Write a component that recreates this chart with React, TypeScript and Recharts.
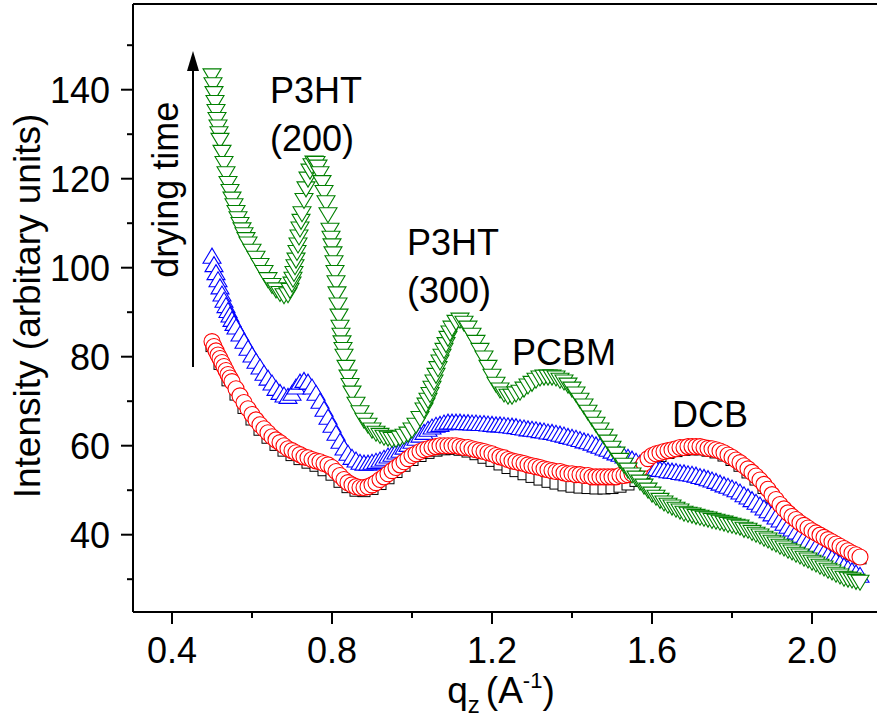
import React from "react";
import {
  ScatterChart,
  Scatter,
  XAxis,
  YAxis,
  ReferenceLine,
  ReferenceDot,
} from "recharts";

// q_z (1/A) vs intensity
const blackSquares: [number, number][] = [
  [0.5, 82.5], [0.52, 78.5], [0.54, 74.8], [0.56, 71.6], [0.58, 68.6], [0.6, 66],
  [0.62, 63.7], [0.64, 61.9], [0.66, 60.3], [0.68, 59], [0.7, 58], [0.72, 57.1],
  [0.74, 56.3], [0.76, 55.6], [0.78, 54.6], [0.8, 53.6], [0.82, 52], [0.84, 50.8],
  [0.86, 50], [0.88, 49.9], [0.9, 50.4], [0.92, 51.5], [0.94, 52.8], [0.96, 54.2],
  [0.98, 55.6], [1.0, 56.9], [1.02, 57.8], [1.04, 58.5], [1.06, 59], [1.08, 59.3],
  [1.1, 59.4], [1.12, 59.2], [1.14, 58.8], [1.16, 58.2], [1.18, 57.4], [1.2, 56.7],
  [1.22, 55.9], [1.24, 55.1], [1.26, 54.4], [1.28, 53.7], [1.3, 53.1], [1.32, 52.5],
  [1.34, 52], [1.36, 51.6], [1.38, 51.2], [1.4, 50.9], [1.42, 50.7], [1.44, 50.6],
  [1.46, 50.5], [1.48, 50.5], [1.5, 50.6], [1.52, 50.9], [1.54, 51.4], [1.56, 52.2],
  [1.58, 54], [1.6, 56.5], [1.62, 57.8], [1.64, 58.5], [1.66, 58.9], [1.68, 59.2],
  [1.7, 59.3], [1.72, 59.3], [1.74, 59], [1.76, 58.6], [1.78, 57.9], [1.8, 56.9],
  [1.82, 55.6], [1.84, 54.1], [1.86, 52.5], [1.88, 50.6], [1.9, 48.5], [1.92, 46.5],
  [1.94, 44.7], [1.96, 43.2], [1.98, 41.9], [2.0, 40.7], [2.02, 39.7], [2.04, 38.7],
  [2.06, 37.7], [2.08, 36.7], [2.1, 35.7], [2.12, 34.8],
];

const redCircles: [number, number][] = [
  [0.5, 83.4], [0.505, 82.3], [0.51, 81.3], [0.515, 80.4], [0.52, 79.6], [0.525, 78.7],
  [0.53, 77.8], [0.535, 76.9], [0.54, 76], [0.545, 75.2], [0.55, 74.4], [0.56, 72.8],
  [0.57, 71.2], [0.58, 69.7], [0.59, 68.3], [0.6, 67], [0.61, 65.8], [0.62, 64.7],
  [0.63, 63.8], [0.64, 62.9], [0.65, 62], [0.66, 61.3], [0.67, 60.7], [0.68, 60],
  [0.69, 59.3], [0.7, 58.9], [0.71, 58.4], [0.72, 58], [0.73, 57.5], [0.74, 57.3],
  [0.75, 56.9], [0.76, 56.6], [0.77, 56.4], [0.78, 56], [0.79, 55.7], [0.8, 55.1],
  [0.81, 54.2], [0.82, 53.3], [0.83, 52.4], [0.84, 51.7], [0.85, 51.2], [0.86, 50.8],
  [0.87, 50.6], [0.88, 50.6], [0.89, 50.8], [0.9, 51.2], [0.91, 51.7], [0.92, 52.4],
  [0.93, 53], [0.94, 53.7], [0.95, 54.4], [0.96, 55.1], [0.97, 55.7], [0.98, 56.4],
  [0.99, 57.1], [1.0, 57.8], [1.01, 58.2], [1.02, 58.7], [1.03, 59.1], [1.04, 59.3],
  [1.05, 59.6], [1.06, 59.8], [1.07, 60], [1.08, 60], [1.09, 60], [1.1, 60],
  [1.11, 60], [1.12, 59.8], [1.13, 59.6], [1.14, 59.6], [1.15, 59.3], [1.16, 59.1],
  [1.17, 58.9], [1.18, 58.7], [1.19, 58.4], [1.2, 58.2], [1.21, 57.8], [1.22, 57.5],
  [1.23, 57.3], [1.24, 56.9], [1.25, 56.6], [1.26, 56.4], [1.27, 56.2], [1.28, 56],
  [1.29, 55.7], [1.3, 55.5], [1.31, 55.3], [1.32, 55.1], [1.33, 54.8], [1.34, 54.6],
  [1.35, 54.4], [1.36, 54.2], [1.37, 54.2], [1.38, 53.9], [1.39, 53.7], [1.4, 53.7],
  [1.41, 53.5], [1.42, 53.5], [1.43, 53.3], [1.44, 53.3], [1.45, 53], [1.46, 53],
  [1.47, 53], [1.48, 53], [1.49, 53], [1.5, 53], [1.51, 53], [1.52, 53.3],
  [1.53, 53.3], [1.54, 53.5], [1.55, 53.7], [1.56, 54.2], [1.57, 54.8], [1.58, 56],
  [1.59, 57.1], [1.6, 57.8], [1.61, 58.2], [1.62, 58.4], [1.63, 58.7], [1.64, 58.9],
  [1.65, 59.1], [1.66, 59.3], [1.67, 59.6], [1.68, 59.6], [1.69, 59.8], [1.7, 59.8],
  [1.71, 59.8], [1.72, 59.8], [1.73, 59.6], [1.74, 59.4], [1.75, 59.3], [1.76, 59.1],
  [1.77, 58.8], [1.78, 58.4], [1.79, 57.9], [1.8, 57.4], [1.81, 56.8], [1.82, 56.2],
  [1.83, 55.5], [1.84, 54.8], [1.85, 54], [1.86, 53.2], [1.87, 52.3], [1.88, 51.3],
  [1.89, 50.2], [1.9, 49], [1.91, 47.9], [1.92, 46.8], [1.93, 45.8], [1.94, 44.9],
  [1.95, 44.1], [1.96, 43.4], [1.97, 42.7], [1.98, 42.1], [1.99, 41.5], [2.0, 40.9],
  [2.01, 40.4], [2.02, 39.9], [2.03, 39.4], [2.04, 38.9], [2.05, 38.4], [2.06, 37.9],
  [2.07, 37.4], [2.08, 36.9], [2.09, 36.4], [2.1, 35.9], [2.11, 35.5], [2.12, 35],
];

const blueTriangles: [number, number][] = [
  [0.5, 102.7], [0.505, 100.8], [0.51, 99], [0.515, 97.4], [0.52, 95.8], [0.525, 94.2],
  [0.53, 92.8], [0.535, 91.6], [0.54, 90.5], [0.545, 89.5], [0.55, 88.5], [0.555, 87.6],
  [0.56, 86.8], [0.57, 85.2], [0.58, 83.6], [0.59, 82], [0.6, 80.5], [0.61, 79.1],
  [0.62, 77.8], [0.63, 76.4], [0.64, 75.3], [0.65, 74.2], [0.66, 73], [0.67, 72.1],
  [0.68, 71.5], [0.69, 71.2], [0.7, 71.9], [0.71, 73.3], [0.72, 74.4], [0.73, 74.8],
  [0.74, 74.4], [0.75, 73.3], [0.76, 71.9], [0.77, 70.1], [0.78, 68.3], [0.79, 66.5],
  [0.8, 64.7], [0.81, 62.9], [0.82, 61.1], [0.83, 59.6], [0.84, 58.4], [0.85, 57.5],
  [0.86, 56.9], [0.87, 56.4], [0.88, 56.2], [0.89, 56.2], [0.9, 56.4], [0.91, 56.6],
  [0.92, 56.9], [0.93, 57.3], [0.94, 57.8], [0.95, 58.2], [0.96, 58.7], [0.97, 59.1],
  [0.98, 59.8], [0.99, 60.4], [1.0, 61.1], [1.01, 61.8], [1.02, 62.5], [1.03, 63.1],
  [1.04, 63.8], [1.05, 64.3], [1.06, 64.7], [1.07, 64.9], [1.08, 65.2], [1.09, 65.4],
  [1.1, 65.4], [1.11, 65.4], [1.12, 65.4], [1.13, 65.3], [1.14, 65.3], [1.15, 65.2],
  [1.16, 65.2], [1.17, 65.1], [1.18, 65.1], [1.19, 65], [1.2, 64.9], [1.21, 64.8],
  [1.22, 64.8], [1.23, 64.7], [1.24, 64.6], [1.25, 64.5], [1.26, 64.4], [1.27, 64.2],
  [1.28, 64.1], [1.29, 63.9], [1.3, 63.8], [1.31, 63.7], [1.32, 63.5], [1.33, 63.4],
  [1.34, 63.2], [1.35, 63.1], [1.36, 62.9], [1.37, 62.7], [1.38, 62.5], [1.39, 62.2],
  [1.4, 62], [1.41, 61.8], [1.42, 61.5], [1.43, 61.2], [1.44, 61], [1.45, 60.7],
  [1.46, 60.3], [1.47, 60], [1.48, 59.6], [1.49, 59.3], [1.5, 58.9], [1.51, 58.5],
  [1.52, 58.2], [1.53, 57.8], [1.54, 57.5], [1.55, 57.1], [1.56, 56.6], [1.57, 56.2],
  [1.58, 55.7], [1.59, 55.4], [1.6, 55.1], [1.61, 55], [1.62, 54.8], [1.63, 54.7],
  [1.64, 54.5], [1.65, 54.4], [1.66, 54.3], [1.67, 54.1], [1.68, 54], [1.69, 53.8],
  [1.7, 53.7], [1.71, 53.5], [1.72, 53.2], [1.73, 53], [1.74, 52.7], [1.75, 52.4],
  [1.76, 52.1], [1.77, 51.7], [1.78, 51.3], [1.79, 51], [1.8, 50.6], [1.81, 50.2],
  [1.82, 49.7], [1.83, 49.1], [1.84, 48.6], [1.85, 48], [1.86, 47.4], [1.87, 46.8],
  [1.88, 46.1], [1.89, 45.5], [1.9, 44.8], [1.91, 44.1], [1.92, 43.4], [1.93, 42.7],
  [1.94, 42], [1.95, 41.4], [1.96, 40.7], [1.97, 40], [1.98, 39.3], [1.99, 38.7],
  [2.0, 38.1], [2.01, 37.4], [2.02, 36.8], [2.03, 36.1], [2.04, 35.5], [2.05, 34.9],
  [2.06, 34.3], [2.07, 33.7], [2.08, 33.1], [2.09, 32.5], [2.1, 32], [2.11, 31.5],
  [2.12, 31],
];

const greenTriangles: [number, number][] = [
  [0.5, 143], [0.5025, 141], [0.505, 139], [0.5075, 137], [0.51, 135], [0.5125, 133.2],
  [0.515, 131.5], [0.5175, 130], [0.52, 128.5], [0.525, 125.8],
  [0.53, 123.3], [0.535, 121], [0.54, 118.8], [0.545, 117], [0.55, 115.3], [0.555, 113.8],
  [0.56, 112.3], [0.565, 110.9], [0.57, 109.6], [0.575, 108.4], [0.58, 107.3], [0.585, 106.2],
  [0.59, 105.2], [0.6, 103.6], [0.61, 102], [0.62, 100.4], [0.63, 98.8], [0.64, 97.2],
  [0.65, 95.9], [0.66, 94.9], [0.67, 94.1], [0.68, 93.6], [0.69, 93.8], [0.695, 94.8],
  [0.7, 96.2], [0.7025, 97.3], [0.705, 98.6], [0.7075, 100.1], [0.71, 101.6], [0.7125, 103.3],
  [0.715, 105], [0.7175, 106.8], [0.72, 108.6], [0.7225, 110.3], [0.725, 112],
  [0.73, 115], [0.735, 117.6], [0.74, 119.8], [0.745, 121.6], [0.75, 122.8], [0.755, 123.4],
  [0.76, 123.3], [0.765, 122.5], [0.77, 121], [0.775, 119], [0.78, 116.8], [0.785, 114.5],
  [0.79, 111.8], [0.795, 108.3], [0.7975, 106.5], [0.8, 104.8], [0.8025, 103], [0.805, 101],
  [0.8075, 98.8], [0.81, 96.5], [0.8125, 94], [0.815, 91.5], [0.8175, 89], [0.82, 86.5],
  [0.8225, 84.7], [0.825, 83], [0.8275, 81.5], [0.83, 80], [0.835, 77.5], [0.84, 75.3],
  [0.845, 73.4], [0.85, 71.7], [0.86, 69.2], [0.87, 67.3], [0.88, 65.6], [0.89, 64.5],
  [0.9, 63.4], [0.91, 62.7], [0.92, 62.2], [0.93, 61.8], [0.94, 61.6], [0.95, 61.3],
  [0.96, 61.3], [0.97, 61.6], [0.98, 62], [0.99, 62.5], [1.0, 63.4], [1.01, 64.5],
  [1.02, 66], [1.03, 67.9], [1.035, 69], [1.04, 70.1], [1.045, 71.4], [1.05, 72.8],
  [1.055, 74.2], [1.06, 75.7], [1.065, 77.2], [1.07, 78.7], [1.075, 80], [1.08, 81.3],
  [1.085, 82.6], [1.09, 84], [1.095, 85.2], [1.1, 86.3], [1.11, 87.6], [1.12, 88.1],
  [1.13, 87.4], [1.14, 86.3], [1.15, 84.7], [1.16, 83.1], [1.17, 81.3], [1.18, 79.6],
  [1.19, 77.5], [1.2, 75.5], [1.21, 73.7], [1.22, 72.4], [1.23, 71.5], [1.24, 71],
  [1.25, 71], [1.26, 71.5], [1.27, 71.9], [1.28, 72.6], [1.29, 73.3], [1.3, 73.9],
  [1.31, 74.6], [1.32, 75.1], [1.33, 75.3], [1.34, 75.3], [1.35, 75.3], [1.36, 75.1],
  [1.37, 74.6], [1.38, 74.2], [1.39, 73.5], [1.4, 72.6], [1.41, 71.5], [1.42, 70.1],
  [1.43, 68.8], [1.44, 67.4], [1.45, 66.1], [1.46, 64.7], [1.47, 63.4], [1.48, 62],
  [1.49, 60.7], [1.5, 59.3], [1.51, 58], [1.52, 56.6], [1.53, 55.5], [1.54, 54.4],
  [1.55, 53.3], [1.56, 52.6], [1.57, 51.7], [1.58, 50.8], [1.59, 49.9], [1.6, 49],
  [1.61, 48.3], [1.62, 47.6], [1.63, 47], [1.64, 46.5], [1.65, 46.1], [1.66, 45.6],
  [1.67, 45.2], [1.68, 44.7], [1.69, 44.5], [1.7, 44.3], [1.71, 44], [1.72, 43.8],
  [1.73, 43.6], [1.74, 43.4], [1.75, 43.1], [1.76, 42.9], [1.77, 42.7], [1.78, 42.5],
  [1.79, 42.2], [1.8, 42], [1.81, 41.8], [1.82, 41.6], [1.83, 41.1], [1.84, 40.9],
  [1.85, 40.4], [1.86, 40], [1.87, 39.6], [1.88, 39.1], [1.89, 38.7], [1.9, 38.2],
  [1.91, 37.8], [1.92, 37.3], [1.93, 36.9], [1.94, 36.4], [1.95, 36], [1.96, 35.5],
  [1.97, 35.1], [1.98, 34.6], [1.99, 34.2], [2.0, 33.7], [2.01, 33.3], [2.02, 32.8],
  [2.03, 32.4], [2.04, 31.9], [2.05, 31.5], [2.06, 31], [2.07, 30.6], [2.08, 30.1],
  [2.09, 29.9], [2.1, 29.7], [2.11, 29.4], [2.12, 29.2],
];

const xMajorTicks = [0.4, 0.8, 1.2, 1.6, 2.0];
const xMinorTicks = [0.6, 1.0, 1.4, 1.8];
const yMajorTicks = [40, 60, 80, 100, 120, 140];
const yMinorTicks = [30, 50, 70, 90, 110, 130, 150];

const X_DOMAIN: [number, number] = [0.3025, 2.1625];
const Y_DOMAIN: [number, number] = [22.63, 159.26];

const FONT = "'Liberation Sans', Arial, sans-serif";
const GREEN = "#008000";

const toPoints = (rows: [number, number][]) => rows.map(([q, I]) => ({ q, I }));

const isIn = (list: number[], v: number) => list.some((m) => Math.abs(m - v) < 1e-6);

function XTick(props: any) {
  const { x, y, payload } = props;
  const major = isIn(xMajorTicks, payload.value);
  const len = major ? 12 : 6;
  return (
    <g>
      <line x1={x} x2={x} y1={y} y2={y + len} stroke="#000" strokeWidth={2} />
      {major && (
        <text x={x} y={y + 51} textAnchor="middle" fontSize={36} fontFamily={FONT} fill="#000">
          {payload.value.toFixed(1)}
        </text>
      )}
    </g>
  );
}

function YTick(props: any) {
  const { x, y, payload } = props;
  const major = isIn(yMajorTicks, payload.value);
  const len = major ? 12 : 6;
  return (
    <g>
      <line x1={x - len} x2={x} y1={y} y2={y} stroke="#000" strokeWidth={2} />
      {major && (
        <text x={x - 23} y={y} dy="0.36em" textAnchor="end" fontSize={36} fontFamily={FONT} fill="#000">
          {payload.value}
        </text>
      )}
    </g>
  );
}

const square = (color: string) => (p: any) => (
  <rect x={p.cx - 6} y={p.cy - 6} width={12} height={12} fill="#fff" stroke={color} strokeWidth={1} />
);

const circle = (color: string) => (p: any) => (
  <circle cx={p.cx} cy={p.cy} r={8} fill="#fff" stroke={color} strokeWidth={1.1} />
);

const triangle = (color: string, down: boolean) => (p: any) => {
  const w = 18;
  const h = 15;
  const { cx, cy } = p;
  const pts = down
    ? `${cx - w / 2},${cy - h / 2} ${cx + w / 2},${cy - h / 2} ${cx},${cy + h / 2}`
    : `${cx - w / 2},${cy + h / 2} ${cx + w / 2},${cy + h / 2} ${cx},${cy - h / 2}`;
  return <polygon points={pts} fill="#fff" stroke={color} strokeWidth={1.1} />;
};

const annotation = (lines: string[]) => (p: any) => (
  <text x={p.cx} y={p.cy} fontSize={36} fontFamily={FONT} fill="#000">
    {lines.map((l, i) => (
      <tspan key={i} x={p.cx} dy={i === 0 ? 0 : 48}>
        {l}
      </tspan>
    ))}
  </text>
);

const rotatedNote = (p: any) => (
  <text
    x={p.cx}
    y={p.cy}
    transform={`rotate(-90 ${p.cx} ${p.cy})`}
    textAnchor="middle"
    fontSize={36}
    fontFamily={FONT}
    fill="#000"
  >
    drying time
  </text>
);

const arrow = (p: any) => {
  const { x1, y1, x2, y2 } = p;
  return (
    <g>
      <line x1={x1} y1={y1} x2={x2} y2={y2 + 14} stroke="#000" strokeWidth={2} />
      <polygon points={`${x2 - 6},${y2 + 20} ${x2 + 6},${y2 + 20} ${x2},${y2}`} fill="#000" />
    </g>
  );
};

const yTitle = () => (
  <text
    x={40}
    y={306}
    transform="rotate(-90 40 306)"
    textAnchor="middle"
    fontSize={37}
    fontFamily={FONT}
    fill="#000"
  >
    Intensity (arbitary units)
  </text>
);

const xTitle = (props: any) => {
  const vb = props.viewBox || { x: 133, y: 612, width: 744 };
  const cx = vb.x + vb.width / 2;
  return (
    <text x={cx - 4} y={vb.y + 91} textAnchor="middle" fontSize={37} fontFamily={FONT} fill="#000">
      q<tspan fontSize={24} dy={10}>z</tspan>
      <tspan dx={6} dy={-10}>(A</tspan>
      <tspan fontSize={22} dy={-15}>-1</tspan>
      <tspan dy={15}>)</tspan>
    </text>
  );
};

export default function App() {
  return (
    <div style={{ position: "absolute", left: 0, top: 0, background: "#fff" }}>
      <ScatterChart width={877} height={725} margin={{ top: 4, right: 0, bottom: 0, left: 0 }}>
        <XAxis
          type="number"
          dataKey="q"
          domain={X_DOMAIN}
          allowDataOverflow
          ticks={[...xMajorTicks, ...xMinorTicks].sort((a, b) => a - b)}
          interval={0}
          tickSize={0}
          tickMargin={0}
          tickLine={false}
          tick={XTick}
          axisLine={{ stroke: "#000", strokeWidth: 2 }}
          height={113}
          label={xTitle}
        />
        <YAxis
          type="number"
          dataKey="I"
          domain={Y_DOMAIN}
          allowDataOverflow
          ticks={[...yMajorTicks, ...yMinorTicks].sort((a, b) => a - b)}
          interval={0}
          tickSize={0}
          tickMargin={0}
          tickLine={false}
          tick={YTick}
          axisLine={{ stroke: "#000", strokeWidth: 2 }}
          width={133}
          label={yTitle}
        />
        <ReferenceLine y={Y_DOMAIN[1]} stroke="#000" strokeWidth={2} />
        <Scatter data={toPoints(blackSquares)} shape={square("#000")} isAnimationActive={false} />
        <Scatter data={toPoints(blueTriangles)} shape={triangle("#0000ff", false)} isAnimationActive={false} />
        <Scatter data={toPoints(redCircles)} shape={circle("#ff0000")} isAnimationActive={false} />
        <Scatter data={toPoints(greenTriangles)} shape={triangle(GREEN, true)} isAnimationActive={false} />
        <ReferenceLine
          segment={[
            { x: 0.4525, y: 77.7 },
            { x: 0.4525, y: 148.7 },
          ]}
          shape={arrow}
          ifOverflow="visible"
        />
        <ReferenceDot x={0.415} y={117.5} r={0} shape={rotatedNote} ifOverflow="visible" />
        <ReferenceDot x={0.645} y={137} r={0} shape={annotation(["P3HT", "(200)"])} ifOverflow="visible" />
        <ReferenceDot x={0.9875} y={102.85} r={0} shape={annotation(["P3HT", "(300)"])} ifOverflow="visible" />
        <ReferenceDot x={1.25} y={78.1} r={0} shape={annotation(["PCBM"])} ifOverflow="visible" />
        <ReferenceDot x={1.65} y={64.2} r={0} shape={annotation(["DCB"])} ifOverflow="visible" />
      </ScatterChart>
    </div>
  );
}
